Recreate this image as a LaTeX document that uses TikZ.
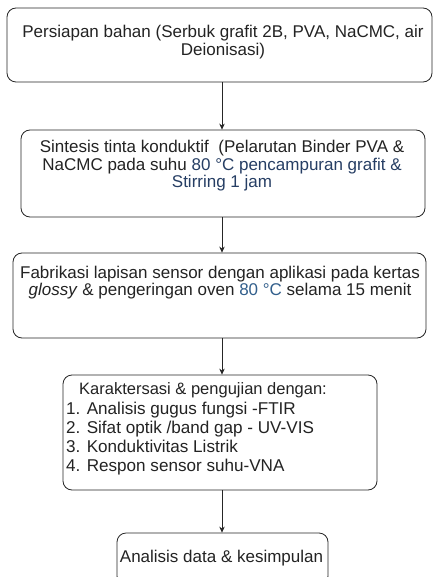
\documentclass[tikz,border=0pt]{standalone}
\usepackage{fontspec}
\setmainfont{Liberation Sans}
\usetikzlibrary{arrows.meta}
\definecolor{txtgray}{RGB}{35,35,35}
\definecolor{navytxt}{RGB}{38,62,100}
\definecolor{bluetxt}{RGB}{50,95,140}
\begin{document}
\begin{tikzpicture}[x=1pt,y=1pt,
  stepbox/.style={draw=black!85, line width=0.8pt, rounded corners=9pt, inner sep=0pt},
  conn/.style={draw=black!85, line width=0.8pt, -{Stealth[length=6pt,width=5.5pt]}},
  txt/.style={text=txtgray, font=\fontsize{17}{17.5}\selectfont, align=center, inner sep=0pt},
  item/.style={text=txtgray, font=\fontsize{17.1}{19}\selectfont, anchor=base west, inner sep=0pt}
]
\useasboundingbox (0,0) rectangle (433,-577);
\fill[white] (0,0) rectangle (433,-577);
% boxes
\node[stepbox, minimum width=425pt, minimum height=74pt] (b1) at (219.5,-45) {};
\node[txt] (t1) at (223,-42) {Persiapan bahan (Serbuk grafit 2B, PVA, NaCMC, air\\Deionisasi)};
\node[stepbox, minimum width=404pt, minimum height=87pt] (b2) at (223,-173.5) {};
\node[txt] (t2) at (222,-166) {Sintesis tinta konduktif\ \ (Pelarutan Binder PVA \&\\NaCMC pada suhu \textcolor{navytxt}{80 °C pencampuran grafit \&}\\\textcolor{navytxt}{Stirring 1 jam}};
\node[stepbox, minimum width=413pt, minimum height=85pt] (b3) at (219.5,-295.5) {};
\node[txt] (t3) at (220,-282.5) {Fabrikasi lapisan sensor dengan aplikasi pada kertas\\\textit{glossy} \& pengeringan oven \textcolor{bluetxt}{80 °C} selama 15 menit};
\node[stepbox, minimum width=314pt, minimum height=115pt] (b4) at (220,-432.5) {};
\node[item, font=\fontsize{16.5}{17}\selectfont] (t4h) at (79,-394.5) {Karaktersasi \& pengujian dengan:};
\node[item] (t4a) at (66,-414.5) {1. Analisis gugus fungsi -FTIR};
\node[item] (t4b) at (66,-433.5) {2. Sifat optik /band gap - UV-VIS};
\node[item] (t4c) at (66,-452.5) {3. Konduktivitas Listrik};
\node[item] (t4d) at (66,-471.5) {4. Respon sensor suhu-VNA};
\node[stepbox, minimum width=211pt, minimum height=52pt] (b5) at (222.5,-559) {};
\node[txt] (t5) at (221.5,-558) {Analisis data \& kesimpulan};
% connectors
\coordinate (ax) at (222,0);
\draw[conn] (b1.south -| ax) -- (b2.north -| ax);
\draw[conn] (b2.south -| ax) -- (b3.north -| ax);
\draw[conn] (b3.south -| ax) -- (b4.north -| ax);
\draw[conn] (b4.south -| ax) -- (b5.north -| ax);
\end{tikzpicture}
\end{document}
